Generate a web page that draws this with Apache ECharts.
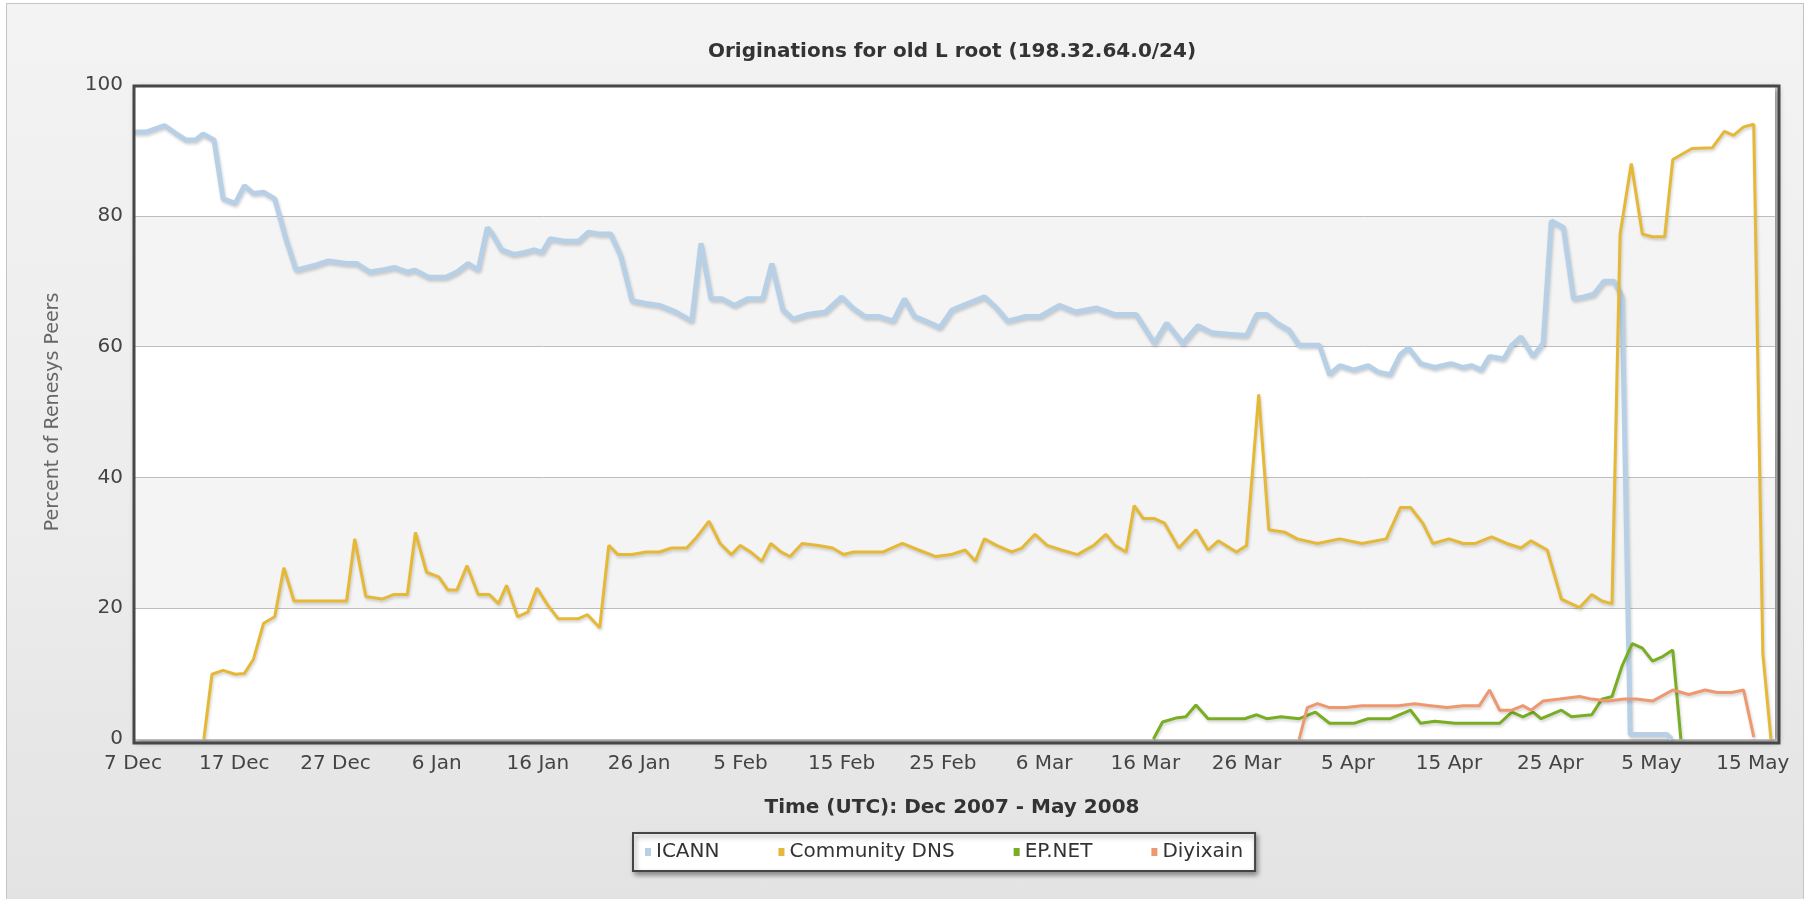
<!DOCTYPE html>
<html>
<head>
<meta charset="utf-8">
<script src="https://cdn.jsdelivr.net/npm/echarts@6/dist/echarts.min.js"></script>
<style>
  html, body { margin:0; padding:0; background:#ffffff; width:1814px; height:899px; overflow:hidden; }
  #frame { position:absolute; left:6px; top:3px; width:1798px; height:900px; border:1px solid #c4c4c4;
           background:linear-gradient(to bottom, #f3f3f3 0%, #ececec 60%, #e3e3e3 100%); box-sizing:border-box; }
  #chart { position:absolute; left:0; top:0; width:1814px; height:899px; }
</style>
</head>
<body>
<div id="frame"></div>
<div id="chart"></div>
<script>
// x values are days since 7 Dec 2007 (UTC)
const tickLabels = ['7 Dec','17 Dec','27 Dec','6 Jan','16 Jan','26 Jan','5 Feb','15 Feb','25 Feb','6 Mar','16 Mar','26 Mar','5 Apr','15 Apr','25 Apr','5 May','15 May'];
const seriesNames = ['ICANN','Community DNS','EP.NET','Diyixain'];

const icannPoints = [[0,92.8],[1.3,92.8],[3.1,93.8],[4.3,92.5],[5.2,91.6],[6.2,91.6],[6.9,92.5],[8,91.6],[8.9,82.6],[10.1,81.9],[11,84.6],[11.9,83.4],[12.9,83.6],[14,82.6],[15.1,76.5],[16.1,71.7],[17.9,72.4],[19.3,73.1],[21.1,72.7],[22.1,72.7],[23.4,71.4],[24.6,71.7],[25.8,72.1],[27.1,71.4],[27.8,71.7],[29.2,70.6],[30.9,70.6],[32,71.4],[33.1,72.7],[34.1,71.7],[35,78.2],[35.5,77.2],[36.4,74.8],[37.6,74.1],[38.7,74.4],[39.6,74.8],[40.4,74.4],[41.2,76.5],[42.6,76.1],[44,76.1],[45,77.5],[46.1,77.2],[47.2,77.2],[48.2,73.8],[49.3,67],[50.7,66.6],[52,66.3],[53.6,65.3],[55.2,63.9],[56.1,75.8],[57.1,67.3],[58.2,67.3],[59.4,66.3],[60.7,67.3],[62.2,67.3],[63.1,72.7],[64.2,65.6],[65.2,64.2],[66.6,64.9],[68.4,65.3],[70,67.6],[71.1,65.9],[72.3,64.6],[73.7,64.6],[75.1,63.9],[76.2,67.3],[77.2,64.6],[78.3,63.9],[79.7,62.9],[80.9,65.6],[82.5,66.6],[84.1,67.6],[85.3,65.9],[86.4,63.9],[88.2,64.6],[89.6,64.6],[91.5,66.3],[93.1,65.3],[95.2,65.9],[97,64.9],[99.1,64.9],[100.9,60.5],[102.1,63.6],[103.7,60.5],[105.2,63.2],[106.6,62.1],[108.2,61.9],[110,61.7],[111,64.9],[112,64.9],[113,63.6],[114.2,62.5],[115.2,60.2],[117.2,60.2],[118.2,55.7],[119.2,57.1],[120.6,56.4],[122,57.1],[123,56.1],[124.2,55.7],[125.2,58.8],[126,59.8],[127.2,57.4],[128.6,56.8],[130.2,57.4],[131.4,56.8],[132.2,57.1],[133.2,56.4],[134,58.5],[135.4,58.1],[136.2,60.2],[137.1,61.5],[138.3,58.5],[139.3,60.5],[140.1,79.2],[141.3,78.2],[142.3,67.3],[143.3,67.6],[144.3,68],[145.3,70],[146.3,70],[147.1,67.6],[147.9,0.7],[151.5,0.7],[152,0]];

const communityPoints = [[7,0],[7.8,9.9],[8.9,10.5],[10.1,9.9],[11,10],[11.9,12.2],[12.9,17.7],[14,18.7],[14.9,26.2],[15.9,21.1],[17.9,21.1],[19.6,21.1],[21.1,21.1],[21.9,30.6],[23,21.8],[24.6,21.4],[25.8,22.1],[27.1,22.1],[27.9,31.6],[29,25.5],[30.2,24.8],[31.1,22.8],[32,22.8],[33,26.5],[34.1,22.1],[35.2,22.1],[36.1,20.7],[36.9,23.5],[38,18.7],[39,19.4],[39.9,23.1],[41,20.4],[42,18.4],[43.3,18.4],[44,18.4],[44.9,19],[46.1,17],[47,29.6],[47.9,28.2],[49.3,28.2],[50.7,28.6],[52,28.6],[53.2,29.2],[54.7,29.2],[55.7,30.9],[56.9,33.3],[58,29.9],[59.1,28.2],[60,29.6],[61,28.6],[62.1,27.2],[63,29.9],[64,28.6],[64.9,27.9],[66.1,29.9],[67.7,29.6],[69.1,29.2],[70.2,28.2],[71.2,28.6],[72.6,28.6],[74.1,28.6],[76,29.9],[77.6,28.9],[79.3,27.9],[80.8,28.2],[82.2,28.9],[83.2,27.2],[84.1,30.6],[85.3,29.6],[86.8,28.6],[87.8,29.2],[89.1,31.3],[90.3,29.6],[91.7,28.9],[93.3,28.2],[94.9,29.6],[96.1,31.3],[97,29.6],[98.1,28.6],[98.9,35.7],[99.8,33.7],[100.9,33.7],[101.9,33],[103.3,29.2],[105,32],[106.2,28.9],[107.2,30.3],[109,28.6],[110,29.6],[111.2,52.7],[112.2,32],[113.8,31.6],[115,30.6],[117,29.9],[119.2,30.6],[121.4,29.9],[123.8,30.6],[125.2,35.4],[126.2,35.4],[127.4,33],[128.4,29.9],[130,30.6],[131.4,29.9],[132.6,29.9],[134.2,30.9],[135.7,29.9],[137.1,29.2],[138.1,30.3],[139.7,28.9],[141.1,21.4],[142.9,20.1],[144.1,22.1],[145.1,21.1],[146.1,20.7],[146.9,77.2],[148,88],[149.1,77.2],[150.1,76.8],[151.3,76.8],[152.1,88.6],[154,90.3],[156,90.4],[157.2,92.9],[158.1,92.3],[159.1,93.6],[160.1,94],[161,13],[161.8,0]];

const epnetPoints = [[100.8,0],[101.7,2.6],[103,3.2],[104,3.4],[105,5.2],[106.2,3.1],[107.8,3.1],[109.8,3.1],[111,3.7],[112,3.1],[113.4,3.4],[115.2,3.1],[116.8,4.1],[118.2,2.4],[119.4,2.4],[120.6,2.4],[122,3.1],[124.2,3.1],[126.2,4.4],[127.2,2.4],[128.6,2.7],[130.6,2.4],[133,2.4],[135,2.4],[136.2,4.1],[137.3,3.4],[138.3,4.1],[139.1,3.1],[141.1,4.4],[142.1,3.4],[144.1,3.7],[145.1,6.1],[146.1,6.5],[147.1,11.2],[148.1,14.6],[149.1,13.9],[150.1,11.9],[151.1,12.6],[152.1,13.6],[152.9,0]];

const diyixainPoints = [[115.2,0],[116,4.8],[117,5.4],[118.2,4.8],[119.8,4.8],[121.4,5.1],[123.4,5.1],[125,5.1],[126.6,5.4],[128.2,5.1],[129.8,4.8],[131.4,5.1],[133,5.1],[134,7.5],[135,4.4],[136.2,4.4],[137.3,5.1],[138.1,4.4],[139.3,5.8],[140.9,6.1],[142.9,6.5],[144.1,6.1],[145.7,5.8],[147.3,6.1],[148.5,6.1],[150.1,5.8],[152.1,7.5],[153.7,6.8],[155.3,7.5],[156.5,7.1],[157.9,7.1],[159.1,7.5],[160.1,0.3]];

const titleText = 'Originations for old L root (198.32.64.0/24)';
const xTitle = 'Time (UTC): Dec 2007 - May 2008';
const yTitle = 'Percent of Renesys Peers';

const colors = ['#b8d0e6','#e6b838','#78ad24','#ee9870'];
const FONT = 'DejaVu Sans';
const G = {left:133, top:85, right:1775, bottom:739};

const chart = echarts.init(document.getElementById('chart'), null, {renderer:'canvas'});

function mkSeries(name, data, color, width, z) {
  return {
    name, type:'line', data, showSymbol:false, symbol:'none', z,
    lineStyle:{color, width, shadowColor:'rgba(0,0,0,0.18)', shadowBlur:3, shadowOffsetX:1, shadowOffsetY:2},
    itemStyle:{color}
  };
}

chart.setOption({
  animation:false,
  backgroundColor:'transparent',
  textStyle:{fontFamily:FONT},
  grid:{left:G.left, top:G.top, width:G.right-G.left, height:G.bottom-G.top, show:true,
        backgroundColor:'#ffffff', borderWidth:0,
        shadowColor:'rgba(0,0,0,0.45)', shadowBlur:6, shadowOffsetX:3, shadowOffsetY:3},
  xAxis:{type:'value', min:0, max:162.2, interval:10,
         axisLine:{show:false}, axisTick:{show:false}, splitLine:{show:false},
         axisLabel:{fontFamily:FONT, fontSize:20, color:'#444', margin:15, showMaxLabel:false,
           formatter:(v)=> (Math.abs(v % 10) < 1e-6 && tickLabels[Math.round(v/10)]) ? tickLabels[Math.round(v/10)] : ''}},
  yAxis:{type:'value', min:0, max:100, interval:20,
         axisLine:{show:false}, axisTick:{show:false},
         splitLine:{lineStyle:{color:'#bdbdbd', width:1}},
         splitArea:{show:true, areaStyle:{color:['#ffffff','#f4f4f4']}},
         axisLabel:{fontFamily:FONT, fontSize:20, color:'#444', margin:10}},
  legend:{data:seriesNames, left:633, top:833, icon:'rect', itemWidth:6, itemHeight:8, itemGap:59,
          backgroundColor:'#ffffff', borderColor:'#444', borderWidth:2, padding:[9,12],
          shadowColor:'rgba(0,0,0,0.4)', shadowBlur:5, shadowOffsetX:2, shadowOffsetY:3,
          textStyle:{fontFamily:FONT, fontSize:20, color:'#333'}},
  series:[
    mkSeries(seriesNames[0], icannPoints, colors[0], 5, 2),
    mkSeries(seriesNames[1], communityPoints, colors[1], 3, 3),
    mkSeries(seriesNames[2], epnetPoints, colors[2], 3, 4),
    mkSeries(seriesNames[3], diyixainPoints, colors[3], 3, 4)
  ],
  graphic:[
    {type:'rect', left:G.left-1.5, top:G.top-1.5, z:100, silent:true,
     shape:{x:0, y:0, width:G.right-G.left+3, height:G.bottom-G.top+3},
     style:{fill:null, stroke:'#474747', lineWidth:3}},
    {type:'text', x:952, y:52, z:100, style:{text:titleText, fontFamily:FONT, fontWeight:'bold', fontSize:20, fill:'#333', align:'center', verticalAlign:'middle'}},
    {type:'text', x:952, y:808, z:100, style:{text:xTitle, fontFamily:FONT, fontWeight:'bold', fontSize:20, fill:'#333', align:'center', verticalAlign:'middle'}},
    {type:'text', x:53, y:412, rotation:Math.PI/2, z:100, style:{text:yTitle, fontFamily:FONT, fontSize:19, fill:'#666', align:'center', verticalAlign:'middle'}}
  ]
});
</script>
</body>
</html>
